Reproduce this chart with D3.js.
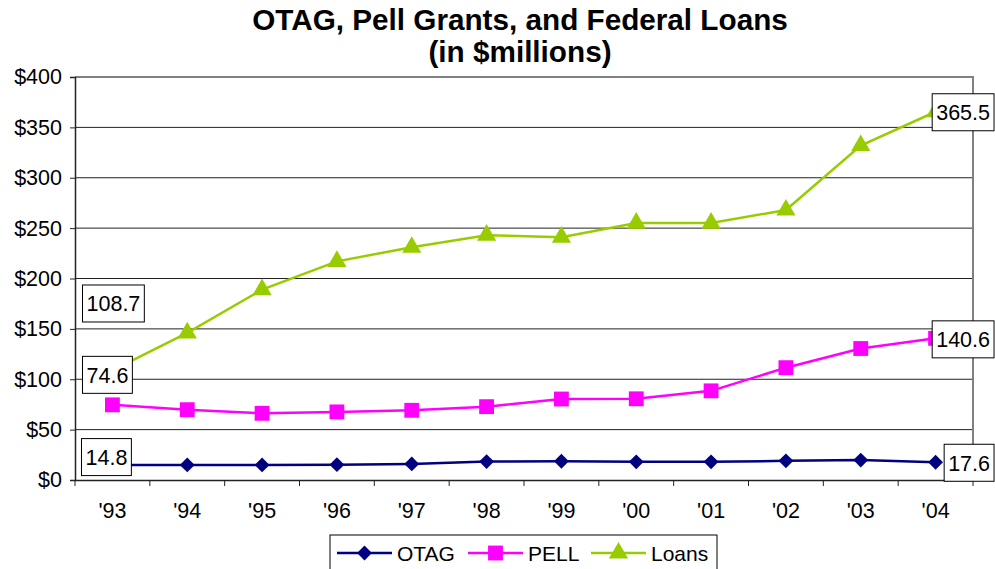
<!DOCTYPE html>
<html>
<head>
<meta charset="utf-8">
<script src="https://cdn.jsdelivr.net/npm/d3@7"></script>
<style>
  body { margin: 0; background: #fff; }
  svg text { font-family: Arial, "Liberation Sans", sans-serif; }
</style>
</head>
<body>
<svg id="chart" width="995" height="569"></svg>
<script>
// chart data
const years = ["'93", "'94", "'95", "'96", "'97", "'98", "'99", "'00", "'01", "'02", "'03", "'04"];
const otag = [14.8, 15.0, 15.0, 15.2, 16.0, 18.3, 18.6, 18.0, 18.0, 19.0, 19.8, 17.6];
const pell = [74.6, 69.8, 66.2, 67.6, 69.2, 72.8, 80.4, 80.6, 88.5, 111.5, 130.5, 140.6];
const loans = [108.7, 146.0, 189.0, 217.0, 231.0, 243.0, 241.0, 255.0, 255.0, 268.0, 332.0, 365.5];
const yTicks = [0, 50, 100, 150, 200, 250, 300, 350, 400];

const svg = d3.select("#chart");
const plot = { left: 75, right: 973, top: 77, bottom: 480 };

const x = d3.scaleBand().domain(years).range([plot.left, plot.right]);
const y = d3.scaleLinear().domain([0, 400]).range([plot.bottom, plot.top]);
const cx = d => x(d) + x.bandwidth() / 2;

// title
svg.append("text").attr("x", 520).attr("y", 30).attr("text-anchor", "middle")
  .style("font-size", "29.7px").style("font-weight", "bold")
  .text("OTAG, Pell Grants, and Federal Loans");
svg.append("text").attr("x", 520).attr("y", 62).attr("text-anchor", "middle")
  .style("font-size", "29.7px").style("font-weight", "bold")
  .text("(in $millions)");

// gridlines
svg.append("g").selectAll("line").data(yTicks.slice(1, -1)).enter().append("line")
  .attr("x1", plot.left).attr("x2", plot.right)
  .attr("y1", d => y(d)).attr("y2", d => y(d))
  .attr("stroke", "#222").attr("stroke-width", 1);

// plot border (top + right)
svg.append("path")
  .attr("d", `M${plot.left},${plot.top}H${plot.right}V${plot.bottom}`)
  .attr("fill", "none").attr("stroke", "#808080").attr("stroke-width", 2);

// y axis
const yAxis = svg.append("g").attr("transform", `translate(${plot.left},0)`)
  .call(d3.axisLeft(y).tickValues(yTicks).tickSize(5).tickPadding(8).tickFormat(d => "$" + d));
yAxis.select(".domain").attr("stroke", "#222").attr("stroke-width", 1.5);
yAxis.selectAll(".tick line").attr("stroke", "#222");
yAxis.selectAll("text").style("font-size", "21.5px").attr("fill", "#000");

// x axis
const xAxis = svg.append("g").attr("transform", `translate(0,${plot.bottom})`)
  .call(d3.axisBottom(x).tickSize(0).tickPadding(23));
xAxis.select(".domain").attr("stroke", "#222").attr("stroke-width", 1.5);
xAxis.selectAll("text").style("font-size", "21.5px").attr("fill", "#000");
// tick marks sit on band boundaries
svg.append("g").selectAll("line").data(years.concat(["end"])).enter().append("line")
  .attr("x1", (d, i) => plot.left + i * x.step()).attr("x2", (d, i) => plot.left + i * x.step())
  .attr("y1", plot.bottom).attr("y2", plot.bottom + 6)
  .attr("stroke", "#222");

const series = [
  { name: "OTAG", values: otag, color: "#000080", shape: d3.symbolDiamond2, size: 140, width: 2.5 },
  { name: "PELL", values: pell, color: "#FF00FF", shape: d3.symbolSquare, size: 220, width: 2.5 },
  { name: "Loans", values: loans, color: "#99CC00", shape: d3.symbolTriangle, size: 160, width: 2.5 }
];

const line = d3.line().x((d, i) => cx(years[i])).y(d => y(d));

series.forEach(s => {
  svg.append("path").datum(s.values)
    .attr("d", line).attr("fill", "none")
    .attr("stroke", s.color).attr("stroke-width", s.width);
  svg.append("g").selectAll("path").data(s.values).enter().append("path")
    .attr("transform", (d, i) => `translate(${cx(years[i])},${y(d)})`)
    .attr("d", d3.symbol().type(s.shape).size(s.size))
    .attr("fill", s.color);
});

// value callouts (first and last points), offsets in px from the point
const callouts = [
  { v: otag[0], i: 0, dx: -6, dy: -8 },
  { v: pell[0], i: 0, dx: -5, dy: -30 },
  { v: loans[0], i: 0, dx: 1, dy: -67 },
  { v: otag[11], i: 11, dx: 33.5, dy: 0.5 },
  { v: pell[11], i: 11, dx: 27.5, dy: 1 },
  { v: loans[11], i: 11, dx: 27.5, dy: 0.5 }
];
callouts.forEach(c => {
  const g = svg.append("g")
    .attr("transform", `translate(${cx(years[c.i]) + c.dx},${y(c.v) + c.dy})`);
  const t = g.append("text").attr("text-anchor", "middle").attr("dy", "0.36em")
    .style("font-size", "21.5px").text(c.v.toFixed(1));
  const bb = t.node().getBBox();
  g.insert("rect", "text")
    .attr("x", bb.x - 4).attr("y", -18.5)
    .attr("width", bb.width + 8).attr("height", 37)
    .attr("fill", "#fff").attr("stroke", "#000").attr("stroke-width", 1);
});

// legend
const legend = svg.append("g");
legend.append("rect").attr("x", 330).attr("y", 535).attr("width", 387).attr("height", 40)
  .attr("fill", "#fff").attr("stroke", "#000");
const legendX = [337, 468, 591];
series.forEach((s, i) => {
  const lx = legendX[i], ly = 553;
  legend.append("line").attr("x1", lx).attr("x2", lx + 55).attr("y1", ly).attr("y2", ly)
    .attr("stroke", s.color).attr("stroke-width", s.width);
  legend.append("path").attr("transform", `translate(${lx + 27.5},${ly})`)
    .attr("d", d3.symbol().type(s.shape).size(s.size)).attr("fill", s.color);
  legend.append("text").attr("x", lx + 60).attr("y", ly).attr("dy", "0.36em")
    .style("font-size", "21px").text(s.name);
});
</script>
</body>
</html>
